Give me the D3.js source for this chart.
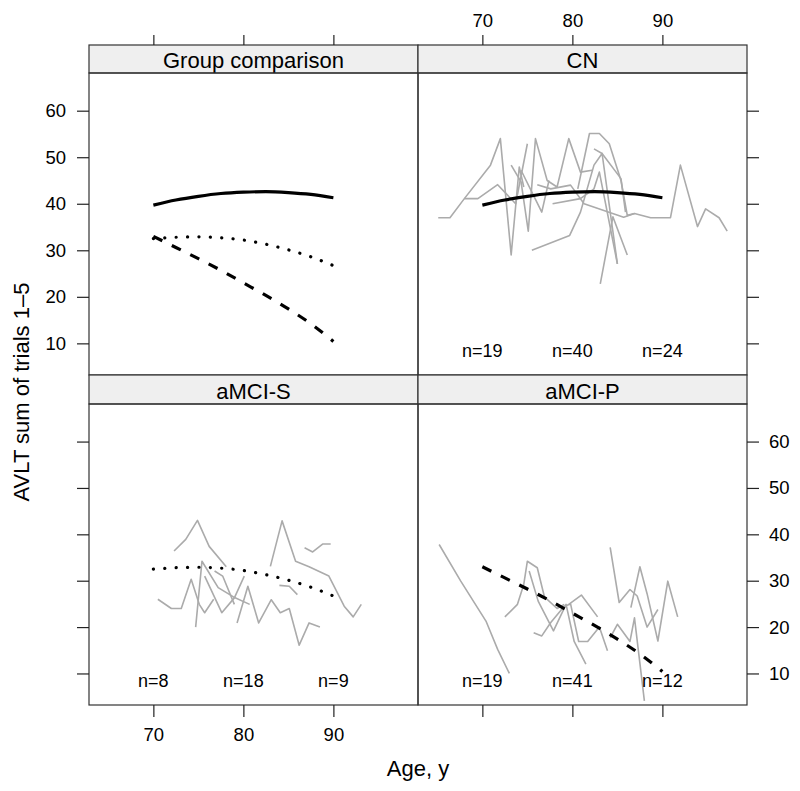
<!DOCTYPE html>
<html>
<head>
<meta charset="utf-8">
<script src="https://cdn.jsdelivr.net/npm/d3@7"></script>
<style>
  body { margin: 0; background: #fff; }
  svg text { font-family: Helvetica, Arial, "Liberation Sans", sans-serif; fill: #000; }
</style>
</head>
<body>
<div id="chart"></div>
<script>
// Tick values and panel titles
const ageTicks = [70, 80, 90];
const scoreTicks = [10, 20, 30, 40, 50, 60];
const panelNames = ["Group comparison", "CN", "aMCI-S", "aMCI-P"];

// Fitted group curves (age, score)
const fitAges = [70, 72.5, 75, 77.5, 80, 82.5, 85, 87.5, 90];
const fitCN = [39.7, 40.8, 41.6, 42.2, 42.5, 42.6, 42.4, 42.0, 41.3];
const fitS = [32.5, 32.8, 32.9, 32.7, 32.2, 31.3, 30.1, 28.6, 26.7];
const fitP = [33.0, 30.6, 28.2, 25.7, 23.0, 20.3, 17.4, 14.2, 10.4];

// Individual trajectories, [age, score]
const cnTraj = [
  [[65.1, 37.0], [66.4, 37.0], [68.0, 41.1], [70.9, 48.3], [72.0, 54.0], [73.2, 29.0], [74.1, 47.9], [74.6, 43.6]],
  [[68.0, 41.1], [69.5, 41.1], [71.7, 44.1], [73.7, 40.0], [75.0, 52.9]],
  [[73.2, 48.3], [74.3, 44.7], [75.1, 34.1], [75.9, 54.0], [77.2, 45.0], [78.3, 43.6], [79.6, 54.0], [80.9, 46.8], [82.2, 47.2]],
  [[74.3, 47.2], [76.6, 38.2], [77.4, 45.0]],
  [[76.1, 44.1], [77.6, 43.2], [79.8, 44.0], [81.3, 40.0], [85.7, 37.1], [86.9, 37.9]],
  [[75.5, 30.0], [79.7, 33.2], [80.9, 38.2], [82.4, 48.3], [83.3, 50.8], [85.0, 27.1]],
  [[77.8, 40.0], [80.9, 41.1], [82.4, 43.2], [83.0, 46.8], [85.0, 27.1]],
  [[80.6, 43.2], [81.9, 55.1], [83.0, 55.1], [84.1, 52.9], [85.4, 45.0], [86.1, 37.5], [86.9, 37.9],
   [88.7, 37.0], [90.9, 37.0], [92.0, 48.3], [93.9, 35.1], [94.8, 38.9], [96.3, 37.0], [97.2, 34.1]],
  [[82.4, 51.8], [83.3, 50.8], [85.4, 45.4], [85.9, 38.2]],
  [[83.1, 22.8], [84.5, 37.2], [86.1, 29.0]]
];

const sTraj = [
  [[72.3, 36.4], [73.6, 38.9], [74.9, 43.0], [76.2, 37.4], [78.1, 33.0]],
  [[70.5, 26.0], [72.0, 24.0], [73.1, 24.0], [74.2, 30.3], [75.1, 24.9], [75.7, 23.1], [76.7, 26.0]],
  [[74.7, 20.0], [75.4, 34.2], [77.2, 28.5], [78.9, 26.5], [80.7, 24.9]],
  [[75.7, 31.0], [77.6, 23.1], [79.0, 26.3], [80.1, 31.0]],
  [[76.8, 32.1], [77.7, 31.0], [79.0, 24.9]],
  [[79.3, 20.9], [80.5, 28.8], [81.7, 20.9], [83.1, 25.9], [84.1, 23.1], [85.1, 24.0], [86.2, 16.1], [87.3, 20.9], [88.5, 20.0]],
  [[83.0, 33.1], [84.3, 42.9], [85.8, 34.2], [87.3, 33.0], [89.5, 31.0], [91.2, 24.5], [92.2, 22.2], [93.1, 24.9]],
  [[86.8, 37.1], [87.7, 36.2], [88.8, 37.9], [89.7, 37.9]],
  [[84.0, 29.0], [85.1, 28.8], [86.0, 27.0]]
];

const pTraj = [
  [[65.2, 37.8], [67.6, 29.9], [70.4, 21.3], [71.7, 15.2], [73.0, 10.0]],
  [[72.5, 22.2], [73.9, 24.9], [74.6, 29.2], [75.0, 34.2], [76.1, 32.8], [76.9, 26.5], [78.3, 24.0], [79.1, 24.9]],
  [[75.2, 32.1], [76.2, 25.6], [77.9, 19.2], [79.3, 24.9], [80.2, 16.9], [81.5, 12.0]],
  [[75.7, 18.8], [76.6, 18.1], [77.6, 21.0], [79.1, 24.5], [79.8, 25.0], [80.7, 16.9], [81.7, 16.9], [83.0, 20.0], [83.9, 14.9]],
  [[79.6, 24.9], [81.0, 26.9], [82.8, 22.2]],
  [[84.2, 37.2], [85.2, 25.3], [86.4, 28.1], [87.2, 26.7], [88.3, 20.0], [89.5, 23.8]],
  [[84.2, 17.7], [85.0, 20.6], [86.4, 16.9], [86.9, 22.0], [88.0, 4.1]],
  [[86.5, 24.2], [87.5, 33.0], [88.3, 27.2], [89.5, 17.0], [90.6, 29.9], [91.7, 22.2]]
];

// Group sizes per decade, per panel
const cnCounts = [19, 40, 24];
const sCounts = [8, 18, 9];
const pCounts = [19, 41, 12];
const countAges = [70, 80, 90];

// Layout
let width = 800, height = 791;
let cols = [[89, 418], [418, 747]];
let rows = [{ strip: [45, 73], body: [73, 375] }, { strip: [375, 404], body: [404, 705] }];
let ageDomain = [62.85, 99.4];
let scoreDomain = [3.2, 68.1];
let font = "Helvetica, Arial, 'Liberation Sans', sans-serif";

let svg = d3.select("#chart").append("svg")
  .attr("width", width)
  .attr("height", height);

let fits = [
  { values: fitCN, dash: null },
  { values: fitS, dash: "0.1 11.3" },
  { values: fitP, dash: "10 10.6" }
];

let panels = [
  { col: 0, row: 0, fits: [0, 1, 2], traj: [], counts: null },
  { col: 1, row: 0, fits: [0], traj: cnTraj, counts: cnCounts },
  { col: 0, row: 1, fits: [1], traj: sTraj, counts: sCounts },
  { col: 1, row: 1, fits: [2], traj: pTraj, counts: pCounts }
];

panels.forEach((p, i) => {
  let c = cols[p.col], r = rows[p.row];
  let x = d3.scaleLinear().domain(ageDomain).range(c);
  let y = d3.scaleLinear().domain(scoreDomain).range([r.body[1], r.body[0]]);

  let g = svg.append("g");
  let clipId = "clip" + i;
  g.append("clipPath").attr("id", clipId)
    .append("rect")
    .attr("x", c[0]).attr("y", r.body[0])
    .attr("width", c[1] - c[0]).attr("height", r.body[1] - r.body[0]);

  let body = g.append("g").attr("clip-path", "url(#" + clipId + ")");

  let line = d3.line()
    .x(d => x(d[0]))
    .y(d => y(d[1]));

  // individual trajectories
  body.selectAll(".traj")
    .data(p.traj)
    .enter().append("path")
    .attr("class", "traj")
    .attr("fill", "none")
    .attr("stroke", "#ababab")
    .attr("stroke-width", 1.6)
    .attr("stroke-linejoin", "round")
    .attr("d", line);

  // n labels
  if (p.counts) {
    g.selectAll(".nlab")
      .data(p.counts)
      .enter().append("text")
      .attr("x", (d, j) => x(countAges[j]))
      .attr("y", r.body[1] - 18)
      .attr("text-anchor", "middle")
      .style("font-size", "18px")
      .text(d => "n=" + d);
  }

  // fitted curves
  p.fits.forEach(k => {
    let f = fits[k];
    let pts = fitAges.map((a, j) => [a, f.values[j]]);
    let path = body.append("path")
      .datum(pts)
      .attr("fill", "none")
      .attr("stroke", "#000")
      .attr("stroke-width", 3.2)
      .attr("d", d3.line().curve(d3.curveMonotoneX).x(d => x(d[0])).y(d => y(d[1])));
    if (f.dash) {
      path.attr("stroke-dasharray", f.dash);
      if (k == 1) path.attr("stroke-linecap", "round");
    }
  });

  // strip
  g.append("rect")
    .attr("x", c[0]).attr("y", r.strip[0])
    .attr("width", c[1] - c[0]).attr("height", r.strip[1] - r.strip[0])
    .attr("fill", "#efefef")
    .attr("stroke", "#333")
    .attr("stroke-width", 1.2);
  g.append("text")
    .attr("x", (c[0] + c[1]) / 2)
    .attr("y", r.strip[1] - 5)
    .attr("text-anchor", "middle")
    .style("font-size", "22px")
    .text(panelNames[i]);

  // panel border
  g.append("rect")
    .attr("x", c[0]).attr("y", r.body[0])
    .attr("width", c[1] - c[0]).attr("height", r.body[1] - r.body[0])
    .attr("fill", "none")
    .attr("stroke", "#333")
    .attr("stroke-width", 1.2);

  // axes: lattice style, alternating labels
  let yAxis, yLabels;
  if (p.col == 0) {
    yAxis = d3.axisLeft(y).tickPadding(11);
    yLabels = p.row == 0;
  } else {
    yAxis = d3.axisRight(y).tickPadding(10);
    yLabels = p.row == 1;
  }
  yAxis.tickValues(scoreTicks).tickSize(12);
  if (!yLabels) yAxis.tickFormat("");
  let ya = g.append("g")
    .attr("transform", "translate(" + (p.col == 0 ? c[0] : c[1]) + ",0)")
    .call(yAxis);

  let xAxis, xLabels, xPos;
  if (p.row == 0) {
    xAxis = d3.axisTop(x).tickSize(10).tickPadding(8);
    xLabels = p.col == 1;
    xPos = r.strip[0];
  } else {
    xAxis = d3.axisBottom(x).tickSize(12).tickPadding(11);
    xLabels = p.col == 0;
    xPos = r.body[1];
  }
  xAxis.tickValues(ageTicks);
  if (!xLabels) xAxis.tickFormat("");
  let xa = g.append("g")
    .attr("transform", "translate(0," + xPos + ")")
    .call(xAxis);

  [ya, xa].forEach(a => {
    a.select(".domain").remove();
    a.selectAll(".tick line").attr("stroke", "#222").attr("stroke-width", 1.2);
    a.selectAll(".tick text")
      .style("font-size", "18.5px")
      .style("font-family", font)
      .attr("fill", "#000");
  });
});

// Axis titles
svg.append("text")
  .attr("x", 418)
  .attr("y", 776)
  .attr("text-anchor", "middle")
  .style("font-size", "22px")
  .text("Age, y");

svg.append("text")
  .attr("transform", "translate(29,392) rotate(-90)")
  .attr("text-anchor", "middle")
  .style("font-size", "22px")
  .text("AVLT sum of trials 1–5");
</script>
</body>
</html>
